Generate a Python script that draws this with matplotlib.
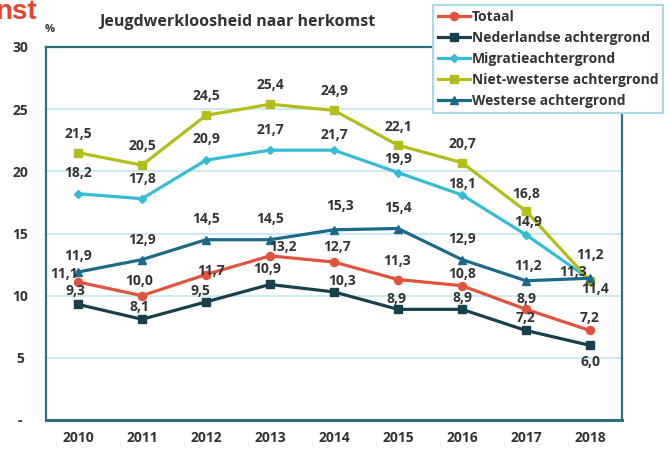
import matplotlib
matplotlib.use('Agg')
import matplotlib.pyplot as plt

plt.rcParams['font.family'] = ['Open Sans', 'DejaVu Sans']
plt.rcParams['font.weight'] = 'bold'

# ── data ─────────────────────────────────────────────
years         = [2010, 2011, 2012, 2013, 2014, 2015, 2016, 2017, 2018]
totaal        = [11.1, 10.0, 11.7, 13.2, 12.7, 11.3, 10.8, 8.9, 7.2]
nederlandse   = [9.3, 8.1, 9.5, 10.9, 10.3, 8.9, 8.9, 7.2, 6.0]
migratie      = [18.2, 17.8, 20.9, 21.7, 21.7, 19.9, 18.1, 14.9, 11.3]
niet_westerse = [21.5, 20.5, 24.5, 25.4, 24.9, 22.1, 20.7, 16.8, 11.2]
westerse      = [11.9, 12.9, 14.5, 14.5, 15.3, 15.4, 12.9, 11.2, 11.4]
yticks        = [0, 5, 10, 15, 20, 25, 30]
ytick_labels  = ['-', '5', '10', '15', '20', '25', '30']

TEXT  = '#333333'
SPINE = '#2f6e7e'
GRID  = '#c4e8f0'

# label offsets in pixels (dx, dy up)
series = [
    ('Totaal', totaal, '#e0533d', 'o', 5.8,
     [(-14, 8), (-3, 15), (5, 4), (13, 9), (3, 15), (-1, 19), (0, 12), (0, 10), (0, 12)]),
    ('Nederlandse achtergrond', nederlandse, '#17404c', 's', 5.8,
     [(-3, 13), (-3, 12), (-6, 11), (-3, 15), (8, 11), (-2, 10), (0, 11), (0, 12), (0, -17)]),
    ('Migratieachtergrond', migratie, '#38bcd5', 'D', 4.5,
     [(0, 21), (0, 20), (0, 21), (0, 20), (0, 15), (0, 14), (0, 11), (2, 13), (-17, 8)]),
    ('Niet-westerse achtergrond', niet_westerse, '#b3bd1b', 's', 5.8,
     [(0, 19), (0, 19), (0, 19), (0, 19), (0, 19), (0, 18), (0, 19), (0, 17), (0, 26)]),
    ('Westerse achtergrond', westerse, '#1c6a8a', '^', 6.0,
     [(0, 16), (0, 20), (0, 21), (0, 21), (6, 24), (0, 21), (0, 21), (2, 15), (5, -11)]),
]

fig = plt.figure(figsize=(6.69, 4.5), dpi=100)
ax = fig.add_axes([46/669, 30/450, (622-46)/669, (420-47)/450])

for name, vals, col, mk, ms, offs in series:
    ax.plot(years, vals, color=col, lw=2.3, marker=mk, ms=ms,
            markeredgecolor=col, label=name, zorder=3)
    for x, v, (dx, dy) in zip(years, vals, offs):
        ax.annotate(f'{v:.1f}'.replace('.', ','), (x, v),
                    xytext=(dx*0.72, dy*0.72), textcoords='offset points',
                    ha='center', va='center', fontsize=10, fontweight='bold',
                    color=TEXT, zorder=5)

ax.set_xlim(2009.5, 2018.5)
ax.set_ylim(0, 30)
ax.set_xticks(years)
ax.set_xticklabels([str(y) for y in years])
ax.set_yticks(yticks)
ax.set_yticklabels(ytick_labels)
for lab in ax.get_yticklabels():
    lab.set_horizontalalignment('center')
ax.tick_params(axis='y', length=0, pad=18.5, labelsize=10, labelcolor=TEXT)
ax.tick_params(axis='x', length=0, pad=8, labelsize=10, labelcolor=TEXT)
ax.grid(axis='y', color=GRID, lw=1.2)
ax.grid(axis='x', visible=False)
ax.set_axisbelow(True)
for s in ax.spines.values():
    s.set_color(SPINE)
    s.set_linewidth(1.6)
ax.spines['bottom'].set_linewidth(2.2)

leg = ax.legend(loc='upper left', bbox_to_anchor=(433/669, 1-5/450),
                bbox_transform=fig.transFigure, borderaxespad=0,
                fancybox=False, framealpha=1, edgecolor='#a8dbe6',
                prop={'family': ['Open Sans', 'DejaVu Sans'], 'weight': 'bold', 'size': 10},
                handlelength=2.3, handletextpad=0.15, labelspacing=0.5,
                borderpad=0.35)
leg.get_frame().set_linewidth(1.5)
for t in leg.get_texts():
    t.set_color(TEXT)
leg.set_zorder(10)

fig.text(237/669, 1-22/450, 'Jeugdwerkloosheid naar herkomst', ha='center',
         va='center', fontsize=11.5, fontweight='bold', color=TEXT)
fig.text(50/669, 1-30/450, '%', ha='center', va='center', fontsize=8,
         fontweight='bold', color=TEXT)
fig.text(37/669, 1-19/450, 'nst', ha='right', va='baseline', fontsize=20,
         fontweight='bold', color='#e8432c', family=['Liberation Sans', 'DejaVu Sans'])

fig.savefig('out.png', dpi=100, facecolor='white')
